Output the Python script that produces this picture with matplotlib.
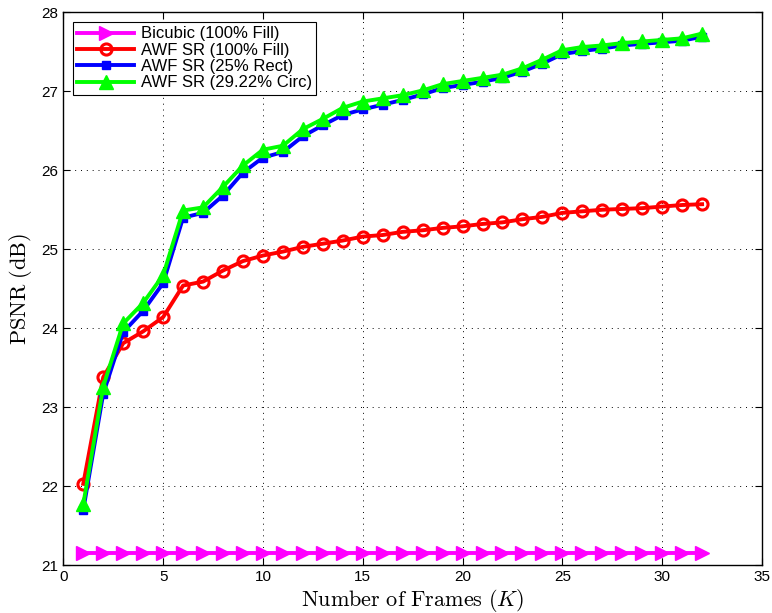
import matplotlib
matplotlib.use('Agg')
import matplotlib.pyplot as plt

# PSNR vs number of frames
frames = list(range(1, 33))
bicubic = [21.16, 21.16, 21.16, 21.16, 21.16, 21.16, 21.16, 21.16, 21.16, 21.16, 21.16,
           21.16, 21.16, 21.16, 21.16, 21.16, 21.16, 21.16, 21.16, 21.16, 21.16, 21.16,
           21.16, 21.16, 21.16, 21.16, 21.16, 21.16, 21.16, 21.16, 21.16, 21.16]
awf_fill = [22.03, 23.38, 23.81, 23.96, 24.14, 24.54, 24.59, 24.73, 24.85, 24.92, 24.97,
            25.03, 25.07, 25.11, 25.16, 25.18, 25.22, 25.24, 25.27, 25.29, 25.32, 25.34,
            25.38, 25.41, 25.46, 25.48, 25.50, 25.51, 25.52, 25.54, 25.56, 25.57]
awf_rect = [21.70, 23.17, 23.95, 24.22, 24.57, 25.40, 25.46, 25.68, 25.97, 26.16, 26.23,
            26.43, 26.57, 26.70, 26.77, 26.83, 26.89, 26.96, 27.04, 27.08, 27.12, 27.17,
            27.25, 27.35, 27.47, 27.51, 27.54, 27.58, 27.60, 27.62, 27.64, 27.69]
awf_circ = [21.77, 23.26, 24.06, 24.32, 24.67, 25.49, 25.53, 25.79, 26.06, 26.26, 26.31,
            26.52, 26.65, 26.79, 26.87, 26.91, 26.95, 27.01, 27.09, 27.13, 27.17, 27.21,
            27.29, 27.40, 27.52, 27.56, 27.58, 27.61, 27.63, 27.65, 27.67, 27.73]
labels = ['Bicubic (100% Fill)', 'AWF SR (100% Fill)', 'AWF SR (25% Rect)', 'AWF SR (29.22% Circ)']

plt.rcParams['font.family'] = ['Liberation Sans', 'DejaVu Sans']
plt.rcParams['mathtext.fontset'] = 'cm'

fig = plt.figure(figsize=(7.72, 6.13), dpi=100)
ax = fig.add_axes([0.082, 0.078, 0.905, 0.902])

ax.plot(frames, bicubic, color='#ff00ff', lw=2.8, marker='>', ms=10, label=labels[0])
ax.plot(frames, awf_fill, color='#ff0000', lw=2.8, marker='o', ms=8, mfc='none', mew=2.2, label=labels[1])
ax.plot(frames, awf_rect, color='#0000ff', lw=2.8, marker='s', ms=6, label=labels[2])
ax.plot(frames, awf_circ, color='#00ff00', lw=2.8, marker='^', ms=10, label=labels[3])

ax.set_xlim(0, 35)
ax.set_ylim(21, 28)
ax.set_xticks(range(0, 36, 5))
ax.set_yticks(range(21, 29))
ax.grid(True, color='black', linestyle=(0, (1, 5)), linewidth=0.7)
ax.tick_params(direction='in', top=True, right=True, labelsize=11, length=5)
for s in ax.spines.values():
    s.set_linewidth(1.0)

ax.set_xlabel(r'$\mathrm{Number\ of\ Frames}\ (K)$', fontsize=16, labelpad=2)
ax.set_ylabel(r'$\mathrm{PSNR\ (dB)}$', fontsize=16, labelpad=5)

leg = ax.legend(loc='upper left', fontsize=12, handlelength=3.4, fancybox=False,
                edgecolor='black', framealpha=1, borderpad=0.25, labelspacing=0.08,
                handletextpad=0.4, borderaxespad=0.6)
leg.get_frame().set_linewidth(0.8)

plt.savefig('out.png', dpi=100)
